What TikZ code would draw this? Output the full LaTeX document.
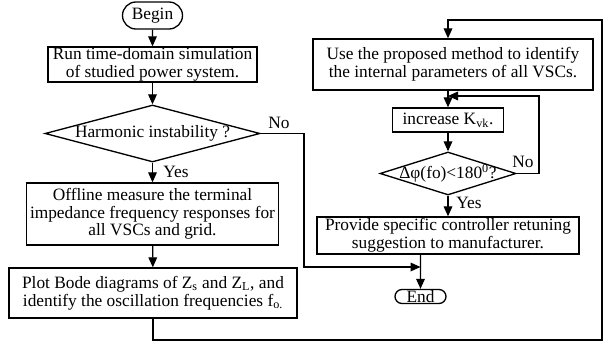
\documentclass[tikz,border=0pt]{standalone}
\usepackage{fontspec}
\setmainfont{Liberation Serif}
\usetikzlibrary{arrows.meta,shapes.geometric,shapes.misc}
\begin{document}
\begin{tikzpicture}[x=0.75pt, y=-0.75pt,
  font=\fontsize{13}{13.2}\selectfont,
  box/.style={draw, line width=1pt, align=center, inner sep=0pt},
  decision/.style={draw, diamond, line width=1pt, inner sep=0pt},
  term/.style={draw, rounded rectangle, line width=1pt, inner sep=0pt},
  arr/.style={line width=0.9pt, -{Triangle[length=7.5pt,width=6.5pt]}}]
 \useasboundingbox (0,0) rectangle (616,345);

 % left column
 \node[term, minimum width=45pt, minimum height=20.25pt] (begin) at (152.5,15.5) {Begin};
 \node[box, minimum width=156.75pt, minimum height=26.25pt] (box1) at (152.5,64.5)
   {Run time-domain simulation\\of studied power system.};
 \node[decision, minimum width=161.25pt, minimum height=42.75pt] (dia1) at (152.5,133.5) {};
 \node (q1) at (dia1) {Harmonic instability ?};
 \node[box, minimum width=189pt, minimum height=46.5pt] (box3) at (152.5,214)
   {Offline measure the terminal\\impedance frequency responses for\\all VSCs and grid.};
 \node[box, minimum width=216pt, minimum height=37.5pt] (box4) at (153,293)
   {Plot Bode diagrams of Z\textsubscript{s} and Z\textsubscript{L}, and\\identify the oscillation frequencies f\textsubscript{o.}};

 % right column
 \node[box, minimum width=210pt, minimum height=38.25pt] (box5) at (453,64.5)
   {Use the proposed method to identify\\the internal parameters of all VSCs.};
 \node[box, minimum width=83.25pt, minimum height=18pt] (box6) at (448,120)
   {increase K\textsubscript{vk}.};
 \node[decision, minimum width=102pt, minimum height=32.25pt] (dia2) at (448,173.5) {};
 \node (q2) at (dia2) {Δφ(fo)<180\textsuperscript{0}?};
 \node[box, minimum width=196.5pt, minimum height=27.75pt] (box7) at (448,235.5)
   {Provide specific controller retuning\\suggestion to manufacturer.};
 \node[term, minimum width=38.25pt, minimum height=10.5pt] (end) at (420.5,296.5) {End};

 \node (no1) at (279,123) {No};
 \node (yes1) at (176,172) {Yes};
 \node (no2) at (523,162) {No};
 \node (yes2) at (469,203) {Yes};

 \coordinate (c1) at (602,340);
 \coordinate (c2) at (602,20);
 \coordinate (c3) at (448,20);
 \coordinate (c4) at (539,96);
 \coordinate (c5) at (448,96);
 \coordinate (c6) at (304,267);

 \draw[arr] (begin) -- (box1);
 \draw[arr] (box1) -- (dia1);
 \draw[arr] (dia1) -- (box3);
 \draw[arr] (box3) -- (box4);
 \draw[arr] (box4.south) |- (c1) -- (c2) -- (c3) -- (box5.north -| c3);
 \draw[arr] (box5.south -| box6) -- (box6);
 \draw[arr] (box6) -- (dia2);
 \draw[arr] (dia2.east) -| (c4) -- (c5);
 \draw[arr] (dia2) -- (box7);
 \draw[arr] (dia1.east) -| (c6) -- (c6 -| end);
 \draw[arr] (box7.south -| end) -- (end);
\end{tikzpicture}
\end{document}
